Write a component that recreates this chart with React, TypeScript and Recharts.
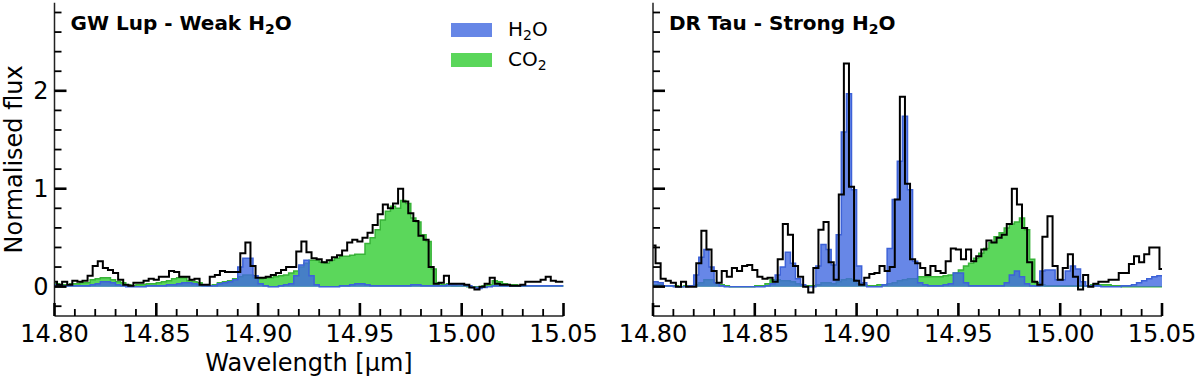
import React from "react"
import { ComposedChart, Area, Line, XAxis, YAxis, Legend, Label } from "recharts"

// bin edges in micron (0.0025 um bins)
const WAVELENGTH = [
  14.8, 14.8025, 14.805, 14.8075, 14.81, 14.8125, 14.815, 14.8175, 14.82, 14.8225,
  14.825, 14.8275, 14.83, 14.8325, 14.835, 14.8375, 14.84, 14.8425, 14.845, 14.8475,
  14.85, 14.8525, 14.855, 14.8575, 14.86, 14.8625, 14.865, 14.8675, 14.87, 14.8725,
  14.875, 14.8775, 14.88, 14.8825, 14.885, 14.8875, 14.89, 14.8925, 14.895, 14.8975,
  14.9, 14.9025, 14.905, 14.9075, 14.91, 14.9125, 14.915, 14.9175, 14.92, 14.9225,
  14.925, 14.9275, 14.93, 14.9325, 14.935, 14.9375, 14.94, 14.9425, 14.945, 14.9475,
  14.95, 14.9525, 14.955, 14.9575, 14.96, 14.9625, 14.965, 14.9675, 14.97, 14.9725,
  14.975, 14.9775, 14.98, 14.9825, 14.985, 14.9875, 14.99, 14.9925, 14.995, 14.9975,
  15.0, 15.0025, 15.005, 15.0075, 15.01, 15.0125, 15.015, 15.0175, 15.02, 15.0225,
  15.025, 15.0275, 15.03, 15.0325, 15.035, 15.0375, 15.04, 15.0425, 15.045, 15.0475,
  15.05,
]

// GW Lup
const GW_LUP_OBS = [
  0.05, 0.02, 0.05, 0.02, 0.06, 0.05, 0.06, 0.11, 0.21, 0.26,
  0.19, 0.17, 0.14, 0.07, 0.02, 0.01, 0.04, 0.04, 0.06, 0.08,
  0.07, 0.1, 0.1, 0.16, 0.15, 0.1, 0.1, 0.07, 0.08, 0.02,
  0.02, 0.1, 0.12, 0.16, 0.15, 0.15, 0.15, 0.34, 0.45, 0.21,
  0.09, 0.09, 0.1, 0.12, 0.14, 0.17, 0.2, 0.2, 0.36, 0.46,
  0.35, 0.29, 0.28, 0.25, 0.27, 0.3, 0.32, 0.37, 0.45, 0.48,
  0.46, 0.5, 0.55, 0.63, 0.74, 0.84, 0.8, 0.85, 1.0, 0.87,
  0.75, 0.67, 0.52, 0.48, 0.2, 0.03, 0.04, 0.11, 0.03, 0.03,
  0.03, 0.02, -0.01, -0.03, 0.0, 0.03, 0.09, 0.03, 0.02, 0.02,
  0.01, 0.01, 0.02, 0.05, 0.05, 0.05, 0.07, 0.1, 0.06, 0.05,
  0.05,
]
const GW_LUP_CO2 = [
  0.03, 0.02, 0.02, 0.03, 0.03, 0.04, 0.04, 0.07, 0.08, 0.09,
  0.09, 0.07, 0.05, 0.04, 0.02, 0.01, 0.02, 0.02, 0.03, 0.03,
  0.04, 0.05, 0.06, 0.08, 0.09, 0.09, 0.06, 0.05, 0.04, 0.02,
  0.01, 0.02, 0.04, 0.05, 0.06, 0.08, 0.1, 0.12, 0.12, 0.09,
  0.08, 0.09, 0.09, 0.1, 0.11, 0.12, 0.14, 0.16, 0.2, 0.24,
  0.27, 0.27, 0.25, 0.24, 0.27, 0.29, 0.31, 0.31, 0.32, 0.33,
  0.33, 0.44, 0.5, 0.58, 0.68, 0.77, 0.82, 0.8, 0.88, 0.85,
  0.7, 0.66, 0.53, 0.46, 0.18, 0.04, 0.02, 0.03, 0.01, 0.01,
  0.01, 0.0, 0.0, 0.0, 0.01, 0.02, 0.06, 0.05, 0.03, 0.02,
  0.02, 0.01, 0.01, 0.01, 0.01, 0.01, 0.01, 0.01, 0.01, 0.01,
  0.01,
]
const GW_LUP_H2O = [
  0.02, 0.01, 0.01, 0.01, 0.01, 0.01, 0.01, 0.02, 0.03, 0.05,
  0.05, 0.04, 0.02, 0.01, 0.0, 0.0, 0.0, 0.0, 0.01, 0.01,
  0.01, 0.01, 0.02, 0.02, 0.03, 0.04, 0.04, 0.03, 0.02, 0.01,
  0.01, 0.01, 0.03, 0.04, 0.05, 0.07, 0.2, 0.29, 0.29, 0.11,
  0.03, 0.01, 0.0, 0.0, 0.01, 0.02, 0.03, 0.11, 0.22, 0.27,
  0.11, 0.02, 0.0, 0.0, 0.0, 0.0, 0.01, 0.01, 0.02, 0.03,
  0.03, 0.02, 0.01, 0.01, 0.01, 0.01, 0.01, 0.01, 0.01, 0.01,
  0.02, 0.02, 0.01, 0.01, 0.01, 0.01, 0.01, 0.02, 0.02, 0.03,
  0.02, 0.01, -0.01, -0.02, -0.01, 0.0, 0.01, 0.01, 0.01, 0.01,
  0.01, 0.01, 0.01, 0.01, 0.01, 0.01, 0.01, 0.01, 0.01, 0.01,
  0.01,
]

// DR Tau
const DR_TAU_OBS = [
  0.42, 0.24, 0.08, 0.06, 0.04, 0.0, 0.05, 0.0, 0.0, 0.24,
  0.57, 0.38, 0.16, 0.04, 0.16, 0.1, 0.19, 0.16, 0.21, 0.22,
  0.17, 0.1, 0.08, 0.09, 0.05, 0.28, 0.64, 0.53, 0.21, 0.1,
  0.0, -0.06, 0.19, 0.58, 0.66, 0.25, 0.07, 0.94, 2.28, 1.02,
  0.06, 0.02, 0.09, 0.13, 0.14, 0.21, 0.16, 0.2, 0.89, 1.94,
  1.05, 0.28, 0.24, 0.19, 0.12, 0.21, 0.16, 0.14, 0.26, 0.39,
  0.38, 0.28, 0.38, 0.26, 0.31, 0.38, 0.47, 0.45, 0.5, 0.53,
  0.64, 1.0, 0.84, 0.6, 0.25, 0.05, 0.02, 0.51, 0.72, 0.21,
  0.07, 0.19, 0.33, 0.1, -0.03, 0.12, 0.0, 0.03, 0.05, 0.05,
  0.07, 0.07, 0.14, 0.14, 0.23, 0.31, 0.25, 0.33, 0.4, 0.4,
  0.18,
]
const DR_TAU_CO2 = [
  0.02, 0.02, 0.01, 0.01, 0.01, 0.0, 0.01, 0.01, 0.02, 0.04,
  0.07, 0.07, 0.04, 0.02, 0.01, 0.0, 0.0, 0.0, 0.0, 0.0,
  0.01, 0.01, 0.03, 0.07, 0.07, 0.06, 0.06, 0.05, 0.03, 0.01,
  0.01, 0.01, 0.02, 0.04, 0.04, 0.03, 0.05, 0.07, 0.08, 0.07,
  0.03, 0.02, 0.01, 0.01, 0.02, 0.02, 0.03, 0.04, 0.06, 0.07,
  0.08, 0.08, 0.1, 0.1, 0.1, 0.1, 0.1, 0.11, 0.12, 0.14,
  0.17, 0.21, 0.24, 0.29, 0.34, 0.39, 0.45, 0.51, 0.55, 0.6,
  0.64, 0.66, 0.7, 0.58, 0.28, 0.04, 0.02, 0.01, 0.01, 0.01,
  0.01, 0.01, 0.01, 0.01, 0.01, 0.01, 0.02, 0.02, 0.02, 0.02,
  0.01, 0.01, 0.0, 0.0, 0.0, 0.0, 0.0, 0.0, 0.0, 0.0,
  0.0,
]
const DR_TAU_H2O = [
  0.05, 0.04, 0.01, 0.01, 0.0, 0.0, 0.0, 0.01, 0.12, 0.3,
  0.38, 0.2, 0.04, 0.01, 0.0, 0.0, 0.0, 0.0, 0.0, 0.0,
  0.0, 0.0, 0.01, 0.03, 0.12, 0.2, 0.35, 0.24, 0.08, 0.02,
  0.0, 0.0, 0.21, 0.43, 0.38, 0.22, 0.53, 1.58, 1.97, 0.99,
  0.21, 0.04, 0.0, 0.0, 0.0, 0.02, 0.39, 0.89, 1.28, 1.74,
  0.99, 0.26, 0.04, 0.02, 0.01, 0.01, 0.01, 0.02, 0.03, 0.14,
  0.14, 0.04, 0.01, 0.01, 0.01, 0.01, 0.01, 0.01, 0.01, 0.04,
  0.12, 0.16, 0.1, 0.03, 0.01, 0.01, 0.16, 0.17, 0.17, 0.07,
  0.07, 0.16, 0.21, 0.18, 0.05, 0.01, 0.01, 0.01, 0.0, 0.0,
  0.0, 0.0, 0.01, 0.01, 0.02, 0.04, 0.06, 0.08, 0.1, 0.11,
  0.11,
]

const X_TICKS = [
  14.8, 14.81, 14.82, 14.83, 14.84, 14.85, 14.86, 14.87, 14.88, 14.89,
  14.9, 14.91, 14.92, 14.93, 14.94, 14.95, 14.96, 14.97, 14.98, 14.99,
  15.0, 15.01, 15.02, 15.03, 15.04, 15.05,
]
const X_MAJOR = [14.8, 14.85, 14.9, 14.95, 15.0, 15.05]
const Y_TICKS = [-0.2, 0, 0.2, 0.4, 0.6, 0.8, 1, 1.2, 1.4, 1.6, 1.8, 2, 2.2, 2.4, 2.6, 2.8]
const Y_MAJOR = [0, 1, 2]

const H2O_COLOR = "royalblue"
const CO2_COLOR = "limegreen"
// chemical labels split as [before subscript, subscript, after subscript]
const LEGEND_ITEMS = [
  { parts: ["H", "2", "O"], color: H2O_COLOR },
  { parts: ["CO", "2", ""], color: CO2_COLOR },
]

const FONT = "'DejaVu Sans', sans-serif"

const isMajor = (v: number, list: number[]) => list.some((m) => Math.abs(m - v) < 1e-6)

function Formula({ parts }: { parts: string[] }) {
  return (
    <>
      {parts[0]}
      <span style={{ fontSize: "0.7em", position: "relative", top: "0.28em" }}>{parts[1]}</span>
      {parts[2]}
    </>
  )
}

function XTick(props: any) {
  const { x, y, payload } = props
  const major = isMajor(payload.value, X_MAJOR)
  return (
    <g>
      <line x1={x} x2={x} y1={y} y2={y - (major ? 13 : 7)} stroke="#000" strokeWidth={major ? 2.6 : 1.8} />
      {major && (
        <text x={x} y={y + 26} textAnchor="middle" fontSize={24} fontFamily={FONT} fill="#000">
          {payload.value.toFixed(2)}
        </text>
      )}
    </g>
  )
}

const makeYTick = (showLabels: boolean) => (props: any) => {
  const { x, y, payload } = props
  const major = isMajor(payload.value, Y_MAJOR)
  return (
    <g>
      <line x1={x} x2={x + (major ? 12 : 7)} y1={y} y2={y} stroke="#000" strokeWidth={major ? 2.6 : 1.8} />
      {showLabels && major && (
        <text x={x - 6} y={y + 8.5} textAnchor="end" fontSize={24} fontFamily={FONT} fill="#000">
          {payload.value}
        </text>
      )}
    </g>
  )
}

function YTitle(props: any) {
  const vb = props.viewBox
  const cx = vb.x + 14
  const cy = vb.y + vb.height / 2
  return (
    <text
      x={cx}
      y={cy}
      transform={`rotate(-90 ${cx} ${cy})`}
      textAnchor="middle"
      dominantBaseline="central"
      fontSize={24}
      fontFamily={FONT}
      fill="#000"
    >
      Normalised flux
    </text>
  )
}

function LegendBox() {
  return (
    <div style={{ fontFamily: FONT }}>
      {LEGEND_ITEMS.map((item) => (
        <div key={item.parts.join("")} style={{ display: "flex", alignItems: "center", height: 30 }}>
          <span
            style={{
              display: "inline-block",
              width: 41,
              height: 14,
              background: item.color,
              opacity: 0.8,
              border: `1px solid ${item.color}`,
              boxSizing: "border-box",
            }}
          />
          <span style={{ marginLeft: 16, fontSize: 20, lineHeight: "30px", color: "#000" }}>
            <Formula parts={item.parts} />
          </span>
        </div>
      ))}
    </div>
  )
}

interface PanelProps {
  title: string[]
  obs: number[]
  h2o: number[]
  co2: number[]
  left: number
  axisWidth: number
  rightMargin: number
  showYLabels?: boolean
  showAxisTitles?: boolean
  showLegend?: boolean
}

function SpectrumPanel({ title, obs, h2o, co2, left, axisWidth, rightMargin, showYLabels, showAxisTitles, showLegend }: PanelProps) {
  const rows = WAVELENGTH.map((wl, i) => ({ wl, obs: obs[i], h2o: h2o[i], co2: co2[i] }))

  return (
    <div style={{ position: "absolute", left, top: 0, width: 600, height: 380 }}>
      <ComposedChart width={600} height={380} data={rows} margin={{ top: 2.7, right: rightMargin, bottom: 0, left: 0 }}>
        <XAxis
          dataKey="wl"
          type="number"
          domain={[14.8, 15.05]}
          allowDataOverflow
          ticks={X_TICKS}
          interval={0}
          tick={XTick}
          tickLine={false}
          tickSize={0}
          tickMargin={0}
          height={64}
          axisLine={{ stroke: "#222", strokeWidth: 1.5 }}
          label={
            showAxisTitles
              ? { value: "Wavelength [µm]", position: "insideBottom", offset: 9, fontSize: 24, fontFamily: FONT, fill: "#000" }
              : undefined
          }
        />
        <XAxis
          xAxisId="top"
          orientation="top"
          type="number"
          domain={[14.8, 15.05]}
          allowDataOverflow
          height={0}
          tick={false}
          tickLine={false}
          axisLine={{ stroke: "#666", strokeWidth: 1.5 }}
        />
        <YAxis
          type="number"
          domain={[-0.3, 2.9]}
          allowDataOverflow
          ticks={Y_TICKS}
          interval={0}
          tick={makeYTick(!!showYLabels)}
          tickLine={false}
          tickSize={0}
          tickMargin={0}
          width={axisWidth}
          axisLine={{ stroke: "#222", strokeWidth: 1.5 }}
          label={showAxisTitles ? <Label content={YTitle} /> : undefined}
        />
        <YAxis
          yAxisId="right"
          orientation="right"
          type="number"
          domain={[-0.3, 2.9]}
          allowDataOverflow
          width={0}
          tick={false}
          tickLine={false}
          axisLine={{ stroke: "#666", strokeWidth: 1.5 }}
        />
        <Area
          type="stepAfter"
          dataKey="co2"
          baseValue={0}
          fill={CO2_COLOR}
          fillOpacity={0.8}
          stroke="#38b338"
          strokeWidth={1.5}
          isAnimationActive={false}
        />
        <Area
          type="stepAfter"
          dataKey="h2o"
          baseValue={0}
          fill={H2O_COLOR}
          fillOpacity={0.8}
          stroke="#3d62d8"
          strokeWidth={1.5}
          isAnimationActive={false}
        />
        <Line
          type="step"
          dataKey="obs"
          stroke="#000"
          strokeWidth={2}
          dot={false}
          activeDot={false}
          isAnimationActive={false}
        />
        {showLegend && (
          <Legend
            layout="horizontal"
            verticalAlign="middle"
            align="center"
            wrapperStyle={{ left: 451, top: 15, width: "auto" }}
            content={() => <LegendBox />}
          />
        )}
      </ComposedChart>
      <div
        style={{
          position: "absolute",
          left: axisWidth + 16,
          top: 13,
          fontFamily: FONT,
          fontWeight: "bold",
          fontSize: 20,
          lineHeight: "20px",
          whiteSpace: "nowrap",
          color: "#000",
        }}
      >
        <Formula parts={title} />
      </div>
    </div>
  )
}

export default function App() {
  return (
    <div style={{ position: "absolute", left: 0, top: 0, width: 1200, height: 380, background: "#fff" }}>
      <SpectrumPanel
        title={["GW Lup - Weak H", "2", "O"]}
        obs={GW_LUP_OBS}
        h2o={GW_LUP_H2O}
        co2={GW_LUP_CO2}
        left={0}
        axisWidth={54.5}
        rightMargin={36.5}
        showYLabels
        showAxisTitles
        showLegend
      />
      <SpectrumPanel
        title={["DR Tau - Strong H", "2", "O"]}
        obs={DR_TAU_OBS}
        h2o={DR_TAU_H2O}
        co2={DR_TAU_CO2}
        left={600}
        axisWidth={53}
        rightMargin={38}
      />
    </div>
  )
}
